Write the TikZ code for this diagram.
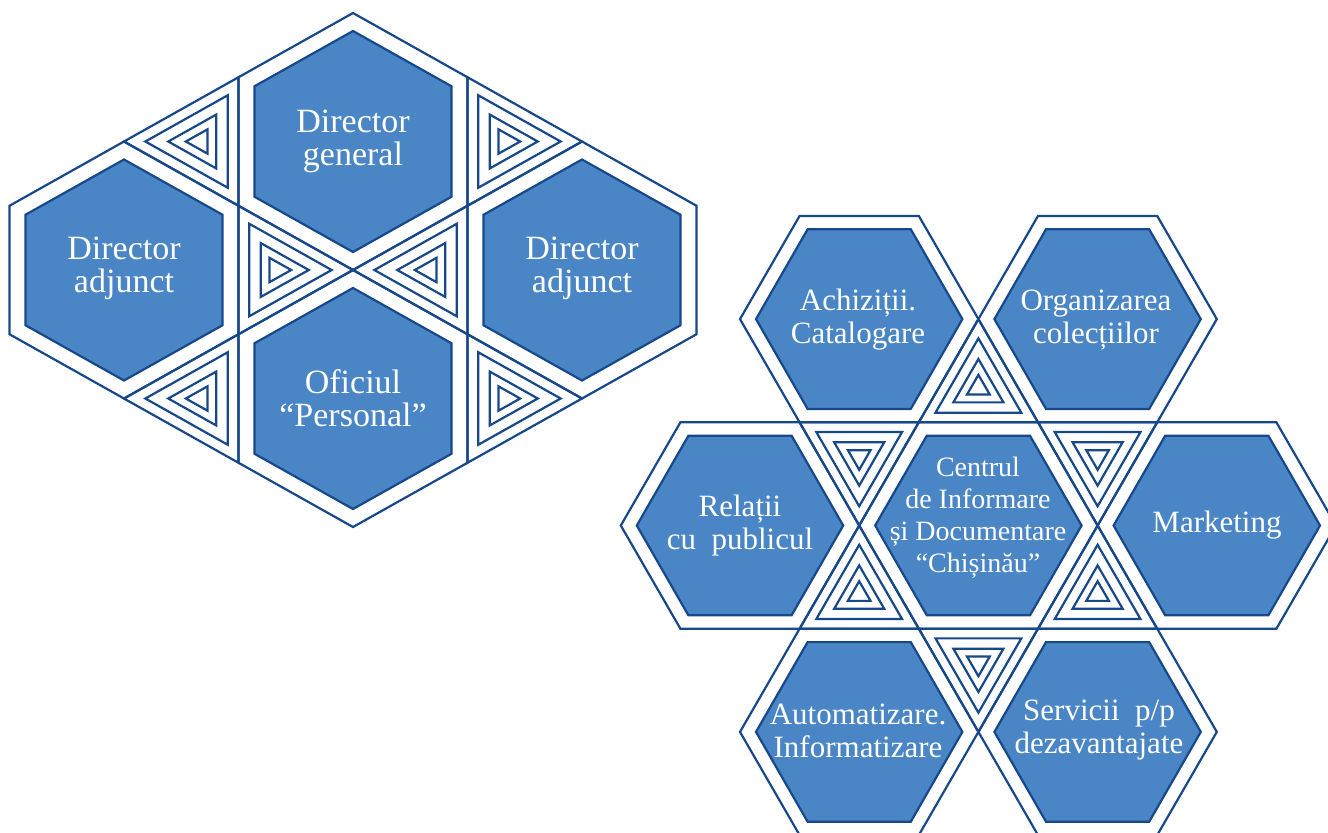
\documentclass[tikz,border=0pt]{standalone}
\usepackage{fontspec}
\setmainfont{Liberation Serif}
\usepackage{tikz}
\usetikzlibrary{shapes,arrows}
\definecolor{hexfill}{RGB}{74,134,198}
\definecolor{hexline}{RGB}{22,72,138}
\tikzstyle{cell} = [draw=hexline, line width=1.1pt, line join=miter]
\tikzstyle{inner hex} = [draw=hexline, line width=1.1pt, fill=hexfill]
\tikzstyle{hex text} = [text=white, align=center, inner sep=0pt, font=\fontsize{15.5}{16.5}\selectfont]
\tikzstyle{big text} = [hex text, font=\fontsize{17}{16.5}\selectfont]
\tikzstyle{small text} = [hex text, font=\fontsize{14}{16}\selectfont]

% unit shapes
\newcommand{\pointyhex}{(0,-1) -- (1,-0.5) -- (1,0.5) -- (0,1) -- (-1,0.5) -- (-1,-0.5) -- cycle}
\newcommand{\flathex}{(1,0) -- (0.5,1) -- (-0.5,1) -- (-1,0) -- (-0.5,-1) -- (0.5,-1) -- cycle}
\newcommand{\sidetri}{(-0.3333,-0.5) -- (-0.3333,0.5) -- (0.6667,0) -- cycle}
\newcommand{\uptri}{(0,-0.6667) -- (0.5,0.3333) -- (-0.5,0.3333) -- cycle}

\newcommand{\pointycell}[2]{%
  \draw[cell, shift={(#1,#2)}, xscale=114.5, yscale=128.5] \pointyhex;
  \draw[inner hex, shift={(#1,#2)}, xscale=98.5, yscale=110.5] \pointyhex;}
\newcommand{\flatcell}[2]{%
  \draw[cell, shift={(#1,#2)}, xscale=119.2, yscale=103.2] \flathex;
  \draw[inner hex, shift={(#1,#2)}, xscale=103.2, yscale=89.8] \flathex;}
\newcommand{\nestedtri}[5]{%
  \foreach \k in {1,0.72,0.42,0.19} {
    \pgfmathsetmacro{\sx}{\k*(#3)}
    \pgfmathsetmacro{\sy}{\k*(#4)}
    \draw[cell, shift={(#1,#2)}, xscale=\sx, yscale=\sy] #5;
  }}

\begin{document}
\begin{tikzpicture}[x=0.5pt, y=-0.5pt]
    \useasboundingbox (0,0) rectangle (1328,832);
    \clip (0,0) rectangle (1328,832);

    % management
    \pointycell{353}{141.5}
    \pointycell{124}{270}
    \pointycell{582}{270}
    \pointycell{353}{398.5}
    \nestedtri{200.3}{141.5}{-114.5}{128.5}{\sidetri}
    \nestedtri{505.7}{141.5}{114.5}{128.5}{\sidetri}
    \nestedtri{276.7}{270}{114.5}{128.5}{\sidetri}
    \nestedtri{429.3}{270}{-114.5}{128.5}{\sidetri}
    \nestedtri{200.3}{398.5}{-114.5}{128.5}{\sidetri}
    \nestedtri{505.7}{398.5}{114.5}{128.5}{\sidetri}

    \node (DG) [big text] at (353,141) {Director\\general};
    \node (DA1) [big text] at (124,268) {Director\\adjunct};
    \node (DA2) [big text] at (582,268) {Director\\adjunct};
    \node (OP) [big text] at (353,398) {Oficiul\\“Personal”};

    % departments
    \flatcell{978.4}{525.5}
    \flatcell{1216.8}{525.5}
    \flatcell{740}{525.5}
    \flatcell{1097.6}{319.1}
    \flatcell{859.2}{319.1}
    \flatcell{859.2}{731.9}
    \flatcell{1097.6}{731.9}
    \nestedtri{978.4}{387.9}{119.2}{103.2}{\uptri}
    \nestedtri{859.2}{456.7}{119.2}{-103.2}{\uptri}
    \nestedtri{1097.6}{456.7}{119.2}{-103.2}{\uptri}
    \nestedtri{859.2}{594.3}{119.2}{103.2}{\uptri}
    \nestedtri{1097.6}{594.3}{119.2}{103.2}{\uptri}
    \nestedtri{978.4}{663.1}{119.2}{-103.2}{\uptri}

    \node (CID) [small text] at (978,518) {Centrul\\de Informare\\și Documentare\\“Chișinău”};
    \node (AC) [hex text] at (858,320) {Achiziții.\\Catalogare};
    \node (OC) [hex text] at (1096,320) {Organizarea\\colecțiilor};
    \node (RP) [hex text] at (740,526) {Relații\\cu~ publicul};
    \node (MK) [hex text] at (1217,525) {Marketing};
    \node (AI) [hex text] at (858,731) {Automatizare.\\Informatizare};
    \node (SD) [hex text] at (1099,730) {Servicii~ p/p\\dezavantajate};
\end{tikzpicture}
\end{document}
